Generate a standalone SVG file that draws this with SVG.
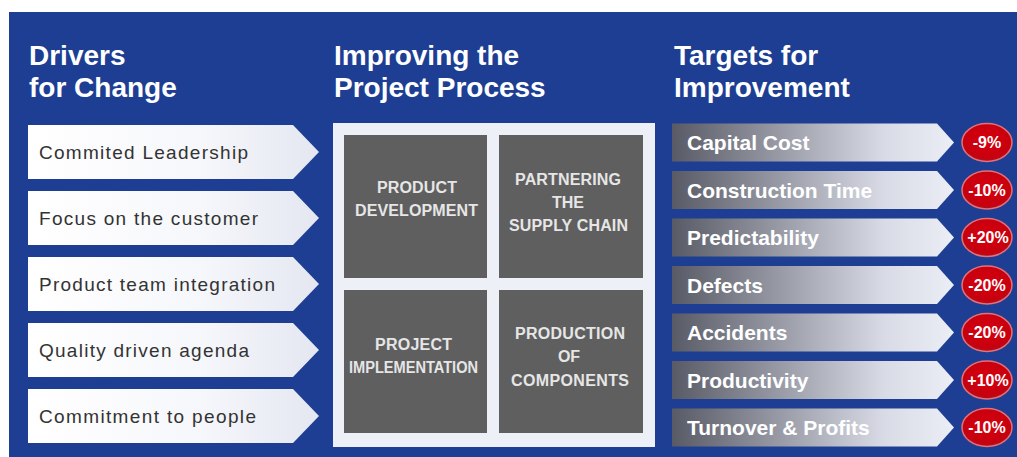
<svg xmlns="http://www.w3.org/2000/svg" width="1017" height="457" viewBox="0 0 1017 457">
  <defs>
    <linearGradient id="driverFill" x1="0" y1="0" x2="1" y2="0">
      <stop offset="0" stop-color="#ffffff"/>
      <stop offset="0.6" stop-color="#f6f7fb"/>
      <stop offset="1" stop-color="#e4e7f1"/>
    </linearGradient>
    <linearGradient id="targetFill" x1="0" y1="0" x2="1" y2="0">
      <stop offset="0" stop-color="#585b65"/>
      <stop offset="0.4" stop-color="#9b9ea9"/>
      <stop offset="0.75" stop-color="#d8dbe5"/>
      <stop offset="1" stop-color="#eceef6"/>
    </linearGradient>
    <radialGradient id="badgeFill" cx="0.5" cy="0.45" r="0.55">
      <stop offset="0" stop-color="#d8000f"/>
      <stop offset="0.8" stop-color="#c8000e"/>
      <stop offset="1" stop-color="#b0101c"/>
    </radialGradient>
    <path id="driverArrow" d="M0,0 H265 L291,27 L265,54 H0 Z"/>
    <path id="targetArrow" d="M0,0 H265 L282,19 L265,38 H0 Z"/>
  </defs>
  <style>
    .bg { fill: #1d3e92; }
    .heading { font-family: "Liberation Sans", Arial, sans-serif; font-weight: bold; font-size: 28px; fill: #ffffff; }
    .driver { fill: url(#driverFill); }
    .driver-text { font-family: "Liberation Sans", Arial, sans-serif; font-size: 19px; fill: #333333; }
    .panel { fill: #eef0f8; }
    .tile { fill: #5f5f5f; }
    .tile-text { font-family: "Liberation Sans", Arial, sans-serif; font-weight: bold; font-size: 16px; fill: #e6e6e6; text-anchor: middle; }
    .target { fill: url(#targetFill); }
    .target-text { font-family: "Liberation Sans", Arial, sans-serif; font-weight: bold; font-size: 21px; fill: #ffffff; }
    .badge { fill: url(#badgeFill); stroke: #e4707a; stroke-width: 1.5; }
    .badge-text { font-family: "Liberation Sans", Arial, sans-serif; font-weight: bold; font-size: 16px; fill: #ffffff; text-anchor: middle; }
  </style>

  <rect x="0" y="0" width="1017" height="457" fill="#ffffff"/>
  <rect class="bg" x="9" y="12" width="1008" height="445"/>

  <!-- column headings -->
  <g id="headings">
    <text class="heading" x="29" y="65">Drivers</text>
    <text class="heading" x="29" y="97">for Change</text>
    <text class="heading" x="334" y="65">Improving the</text>
    <text class="heading" x="334" y="97">Project Process</text>
    <text class="heading" x="674" y="65">Targets for</text>
    <text class="heading" x="674" y="97">Improvement</text>
  </g>

  <!-- drivers for change -->
  <g id="driver-1">
    <use href="#driverArrow" class="driver" x="28" y="125"/>
    <text class="driver-text" x="39" y="159" textLength="209" lengthAdjust="spacing">Commited Leadership</text>
  </g>
  <g id="driver-2">
    <use href="#driverArrow" class="driver" x="28" y="191"/>
    <text class="driver-text" x="39" y="225" textLength="219" lengthAdjust="spacing">Focus on the customer</text>
  </g>
  <g id="driver-3">
    <use href="#driverArrow" class="driver" x="28" y="257"/>
    <text class="driver-text" x="39" y="291" textLength="236" lengthAdjust="spacing">Product team integration</text>
  </g>
  <g id="driver-4">
    <use href="#driverArrow" class="driver" x="28" y="323"/>
    <text class="driver-text" x="39" y="357" textLength="210" lengthAdjust="spacing">Quality driven agenda</text>
  </g>
  <g id="driver-5">
    <use href="#driverArrow" class="driver" x="28" y="389"/>
    <text class="driver-text" x="39" y="423" textLength="217" lengthAdjust="spacing">Commitment to people</text>
  </g>

  <!-- project process panel -->
  <g id="process-panel">
    <rect class="panel" x="333" y="123" width="322" height="324"/>
  </g>
  <g id="product-development">
    <rect class="tile" x="344" y="135" width="143" height="143"/>
    <text class="tile-text" x="417" y="193" textLength="80" lengthAdjust="spacing">PRODUCT</text>
    <text class="tile-text" x="416.5" y="216" textLength="123" lengthAdjust="spacing">DEVELOPMENT</text>
  </g>
  <g id="partnering-supply-chain">
    <rect class="tile" x="499" y="135" width="144" height="143"/>
    <text class="tile-text" x="568" y="185" textLength="106" lengthAdjust="spacing">PARTNERING</text>
    <text class="tile-text" x="568" y="208">THE</text>
    <text class="tile-text" x="568.5" y="231" textLength="119" lengthAdjust="spacing">SUPPLY CHAIN</text>
  </g>
  <g id="project-implementation">
    <rect class="tile" x="344" y="290" width="143" height="143"/>
    <text class="tile-text" x="413.5" y="350" textLength="77" lengthAdjust="spacing">PROJECT</text>
    <text class="tile-text" x="413.5" y="373" textLength="129" lengthAdjust="spacingAndGlyphs">IMPLEMENTATION</text>
  </g>
  <g id="production-of-components">
    <rect class="tile" x="499" y="290" width="144" height="143"/>
    <text class="tile-text" x="570" y="339" textLength="110" lengthAdjust="spacing">PRODUCTION</text>
    <text class="tile-text" x="569" y="362">OF</text>
    <text class="tile-text" x="570" y="386" textLength="118" lengthAdjust="spacing">COMPONENTS</text>
  </g>

  <!-- targets for improvement -->
  <g id="target-capital-cost">
    <use href="#targetArrow" class="target" x="672" y="123.5"/>
    <text class="target-text" x="687" y="150">Capital Cost</text>
    <ellipse class="badge" cx="987" cy="142.5" rx="25" ry="19"/>
    <text class="badge-text" x="987" y="148">-9%</text>
  </g>
  <g id="target-construction-time">
    <use href="#targetArrow" class="target" x="672" y="171"/>
    <text class="target-text" x="687" y="197.5">Construction Time</text>
    <ellipse class="badge" cx="987" cy="190" rx="25" ry="19"/>
    <text class="badge-text" x="987" y="195.5">-10%</text>
  </g>
  <g id="target-predictability">
    <use href="#targetArrow" class="target" x="672" y="218.5"/>
    <text class="target-text" x="687" y="245">Predictability</text>
    <ellipse class="badge" cx="987" cy="237.5" rx="25" ry="19"/>
    <text class="badge-text" x="988" y="243">+20%</text>
  </g>
  <g id="target-defects">
    <use href="#targetArrow" class="target" x="672" y="266"/>
    <text class="target-text" x="687" y="292.5">Defects</text>
    <ellipse class="badge" cx="987" cy="285" rx="25" ry="19"/>
    <text class="badge-text" x="987" y="290.5">-20%</text>
  </g>
  <g id="target-accidents">
    <use href="#targetArrow" class="target" x="672" y="313.5"/>
    <text class="target-text" x="687" y="340">Accidents</text>
    <ellipse class="badge" cx="987" cy="332.5" rx="25" ry="19"/>
    <text class="badge-text" x="987" y="338">-20%</text>
  </g>
  <g id="target-productivity">
    <use href="#targetArrow" class="target" x="672" y="361"/>
    <text class="target-text" x="687" y="387.5">Productivity</text>
    <ellipse class="badge" cx="987" cy="380" rx="25" ry="19"/>
    <text class="badge-text" x="988" y="385.5">+10%</text>
  </g>
  <g id="target-turnover-profits">
    <use href="#targetArrow" class="target" x="672" y="408.5"/>
    <text class="target-text" x="687" y="435">Turnover &amp; Profits</text>
    <ellipse class="badge" cx="987" cy="427.5" rx="25" ry="19"/>
    <text class="badge-text" x="987" y="433">-10%</text>
  </g>
</svg>
